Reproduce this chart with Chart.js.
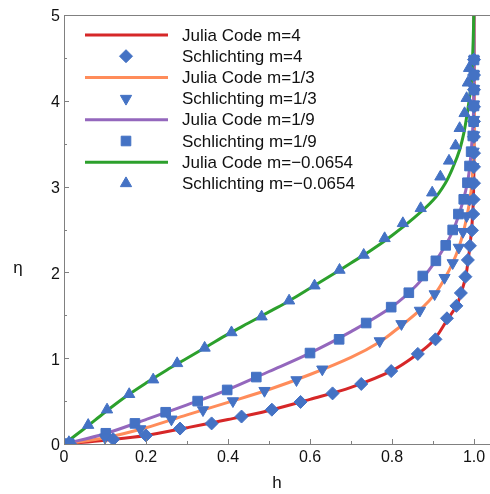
<!DOCTYPE html>
<html>
<head>
<meta charset="utf-8">
<script src="https://cdn.jsdelivr.net/npm/chart.js@4.4.1/dist/chart.umd.min.js"></script>
<style>
  html, body { margin: 0; padding: 0; background: #fff; overflow: hidden; }
  #wrap { width: 490px; height: 494px; position: relative; }
</style>
</head>
<body>
<div id="wrap"><canvas id="chart"></canvas></div>
<script>
// Falkner-Skan velocity profiles, points are [h, eta]
const juliaM4 = [[0,0],[0.1,0.045],[0.2,0.10],[0.3,0.19],[0.4,0.285],[0.5,0.39],[0.6,0.52],[0.7,0.66],[0.8,0.855],
  [0.86,1.04],[0.9,1.2],[0.935,1.45],[0.957,1.61],[0.97,1.78],[0.98,1.96],[0.986,2.15],[0.991,2.35],[0.995,2.55],
  [0.998,2.8],[0.9995,3.1],[1.0,3.5],[1.0,5.0]];
const juliaM13 = [[0,0],[0.1,0.072],[0.2,0.19],[0.3,0.34],[0.4,0.485],[0.5,0.635],[0.6,0.81],[0.7,1.01],[0.77,1.19],
  [0.82,1.37],[0.87,1.57],[0.905,1.75],[0.93,1.94],[0.948,2.11],[0.963,2.29],[0.974,2.47],[0.983,2.66],[0.99,2.85],
  [0.995,3.05],[0.998,3.3],[1.0,3.7],[1.0,5.0]];
const juliaM19 = [[0,0],[0.1,0.12],[0.2,0.285],[0.3,0.455],[0.4,0.635],[0.5,0.845],[0.6,1.06],[0.7,1.31],[0.8,1.6],
  [0.86,1.85],[0.9,2.09],[0.93,2.31],[0.95,2.5],[0.965,2.7],[0.977,2.9],[0.986,3.1],[0.992,3.35],[0.996,3.6],
  [0.999,3.9],[1.0,4.3],[1.0,5.0]];
const juliaMneg = [[0,0],[0.05,0.18],[0.1,0.37],[0.15,0.55],[0.2,0.71],[0.25,0.86],[0.3,1.0],[0.35,1.14],[0.4,1.28],
  [0.45,1.41],[0.5,1.54],[0.55,1.67],[0.6,1.815],[0.65,1.96],[0.7,2.11],[0.75,2.26],[0.8,2.43],[0.85,2.62],
  [0.9,2.84],[0.93,3.04],[0.95,3.24],[0.965,3.43],[0.975,3.62],[0.982,3.81],[0.988,4.0],[0.993,4.2],
  [0.996,4.45],[0.998,4.7],[0.9995,5.0]];

// Schlichting tabulated values, [h, eta]
const schM4 = [[0.015,0.0],[0.12,0.055],[0.20,0.10],[0.283,0.18],[0.36,0.24],[0.433,0.32],[0.507,0.40],[0.577,0.49],
  [0.655,0.59],[0.725,0.70],[0.798,0.85],[0.863,1.05],[0.906,1.22],[0.934,1.465],[0.957,1.61],[0.968,1.76],
  [0.979,1.95],[0.985,2.145],[0.990,2.31],[0.995,2.49],[0.998,2.68],[0.999,2.85],[1.0,3.04],[1.0,3.23],
  [1.0,3.39],[1.0,3.58],[1.0,3.76],[1.0,3.93],[1.0,4.13],[1.0,4.30],[1.0,4.48]];
const schM13 = [[0.012,0.01],[0.1,0.075],[0.186,0.175],[0.262,0.288],[0.339,0.396],[0.412,0.501],[0.489,0.621],
  [0.567,0.746],[0.630,0.871],[0.770,1.20],[0.823,1.40],[0.868,1.556],[0.904,1.748],[0.928,1.938],[0.948,2.11],
  [0.963,2.29],[0.973,2.474],[0.982,2.657],[0.989,2.85],[0.995,3.04],[0.998,3.23],[0.999,3.41],[1.0,3.60],
  [1.0,3.78],[1.0,3.96],[1.0,4.14],[1.0,4.31],[1.0,4.48]];
const schM19 = [[0.012,0.005],[0.102,0.125],[0.173,0.24],[0.248,0.37],[0.326,0.50],[0.398,0.63],[0.469,0.78],
  [0.6,1.06],[0.671,1.22],[0.737,1.41],[0.798,1.595],[0.841,1.763],[0.875,1.958],[0.907,2.135],[0.931,2.315],
  [0.948,2.495],[0.962,2.68],[0.975,2.852],[0.984,3.045],[0.989,3.24],[0.993,3.407],[0.997,3.59],[0.999,3.756],
  [1.0,3.94],[1.0,4.126],[1.0,4.30],[1.0,4.476]];
const schMneg = [[0.012,0.02],[0.059,0.22],[0.105,0.40],[0.159,0.58],[0.2175,0.75],[0.276,0.94],[0.343,1.12],
  [0.4085,1.30],[0.482,1.484],[0.549,1.67],[0.611,1.845],[0.672,2.028],[0.731,2.203],[0.782,2.397],[0.8265,2.572],
  [0.870,2.747],[0.898,2.929],[0.918,3.115],[0.939,3.30],[0.955,3.477],[0.965,3.68],[0.977,3.854],[0.982,4.03],
  [0.985,4.21],[0.988,4.38]];

const seriesLabels = ['Julia Code m=4', 'Schlichting m=4', 'Julia Code m=1/3', 'Schlichting m=1/3',
  'Julia Code m=1/9', 'Schlichting m=1/9', 'Julia Code m=\u22120.0654', 'Schlichting m=\u22120.0654'];

const xMajorTicks = [0, 0.2, 0.4, 0.6, 0.8, 1];
const xMinorTicks = [0.1, 0.3, 0.5, 0.7, 0.9];
const yMajorTicks = [0, 1, 2, 3, 4, 5];
const yMinorTicks = [0.5, 1.5, 2.5, 3.5, 4.5];

const FONT = '"Liberation Sans", Arial, sans-serif';
const axisColor = '#808080';
const markerBlue = '#4472c4';

const toXY = arr => arr.map(p => ({ x: p[0], y: p[1] }));

function lineSet(label, pts, color, order) {
  return { label, data: toXY(pts), showLine: true, borderColor: color, backgroundColor: color,
    borderWidth: 3, pointRadius: 0, pointHoverRadius: 0, tension: 0.35, order };
}
function markerSet(label, pts, style, radius, rotation) {
  return { label, data: toXY(pts), showLine: false, pointStyle: style, pointRadius: radius,
    pointRotation: rotation || 0, pointBackgroundColor: markerBlue, pointBorderColor: markerBlue,
    pointBorderWidth: 1, borderColor: markerBlue, backgroundColor: markerBlue, order: 0 };
}

const datasets = [
  lineSet(seriesLabels[0], juliaM4, '#d62728', 4),
  markerSet(seriesLabels[1], schM4, 'rectRot', 6.5),
  lineSet(seriesLabels[2], juliaM13, '#ff8c5a', 3),
  markerSet(seriesLabels[3], schM13, 'triangle', 6.5, 180),
  lineSet(seriesLabels[4], juliaM19, '#9467bd', 2),
  markerSet(seriesLabels[5], schM19, 'rect', 6.8),
  lineSet(seriesLabels[6], juliaMneg, '#2ca02c', 1),
  markerSet(seriesLabels[7], schMneg, 'triangle', 6.5)
];

// frame, inward ticks, axis titles and the legend box
const framePlugin = {
  id: 'frame',
  afterDraw(chart) {
    const ctx = chart.ctx;
    const a = chart.chartArea;
    const xs = chart.scales.x, ys = chart.scales.y;
    ctx.save();
    ctx.strokeStyle = axisColor;
    ctx.lineWidth = 1;
    ctx.beginPath();
    ctx.moveTo(a.left + 0.5, a.top);
    ctx.lineTo(a.left + 0.5, a.bottom);
    ctx.moveTo(a.left, a.top + 0.5);
    ctx.lineTo(a.right, a.top + 0.5);
    ctx.moveTo(a.left, a.bottom + 0.5);
    ctx.lineTo(a.right, a.bottom + 0.5);
    ctx.stroke();

    ctx.beginPath();
    xMajorTicks.forEach(v => { const px = Math.round(xs.getPixelForValue(v)) + 0.5; ctx.moveTo(px, a.bottom); ctx.lineTo(px, a.bottom - 5); });
    xMinorTicks.forEach(v => { const px = Math.round(xs.getPixelForValue(v)) + 0.5; ctx.moveTo(px, a.bottom); ctx.lineTo(px, a.bottom - 3); });
    yMajorTicks.forEach(v => { const py = Math.round(ys.getPixelForValue(v)) + 0.5; ctx.moveTo(a.left, py); ctx.lineTo(a.left + 5, py); });
    yMinorTicks.forEach(v => { const py = Math.round(ys.getPixelForValue(v)) + 0.5; ctx.moveTo(a.left, py); ctx.lineTo(a.left + 3, py); });
    ctx.stroke();

    // axis titles
    ctx.fillStyle = '#111';
    ctx.font = '17px ' + FONT;
    ctx.textAlign = 'center';
    ctx.textBaseline = 'middle';
    ctx.fillText('h', (a.left + a.right) / 2, 483);
    ctx.fillText('\u03b7', 18, 268);

    // legend
    const rowH = 21.2, top = a.top + 20;
    chart.data.datasets.forEach((ds, i) => {
      const y = top + i * rowH;
      if (ds.showLine) {
        ctx.strokeStyle = ds.borderColor;
        ctx.lineWidth = 3;
        ctx.beginPath();
        ctx.moveTo(a.left + 21, y);
        ctx.lineTo(a.left + 104, y);
        ctx.stroke();
      } else {
        ctx.fillStyle = markerBlue;
        ctx.strokeStyle = markerBlue;
        ctx.lineWidth = 1;
        Chart.helpers.drawPoint(ctx, { pointStyle: ds.pointStyle, radius: ds.pointRadius,
          rotation: ds.pointRotation, borderWidth: 1 }, a.left + 62, y);
      }
      ctx.fillStyle = '#111';
      ctx.font = '17px ' + FONT;
      ctx.textAlign = 'left';
      ctx.textBaseline = 'middle';
      ctx.fillText(ds.label, a.left + 118, y + 1);
    });
    ctx.restore();
  }
};

new Chart(document.getElementById('chart'), {
  type: 'scatter',
  data: { datasets },
  options: {
    responsive: true,
    maintainAspectRatio: false,
    animation: false,
    layout: { autoPadding: false, padding: { top: 15, right: 0, left: 0, bottom: 0 } },
    plugins: { legend: { display: false }, tooltip: { enabled: false } },
    scales: {
      x: {
        type: 'linear', min: 0, max: 1.039,
        grid: { display: false, drawTicks: false },
        border: { display: false },
        ticks: { stepSize: 0.2, includeBounds: false, padding: 4, color: '#111', font: { size: 16, family: FONT } },
        afterFit(s) { s.height = 50; s.paddingLeft = 0; s.paddingRight = 0; }
      },
      y: {
        type: 'linear', min: 0, max: 5,
        grid: { display: false, drawTicks: false },
        border: { display: false },
        ticks: { stepSize: 1, padding: 4, labelOffset: 2, color: '#111', font: { size: 16, family: FONT } },
        afterFit(s) { s.width = 64; s.paddingTop = 0; s.paddingBottom = 0; }
      }
    }
  },
  plugins: [framePlugin]
});
</script>
</body>
</html>
